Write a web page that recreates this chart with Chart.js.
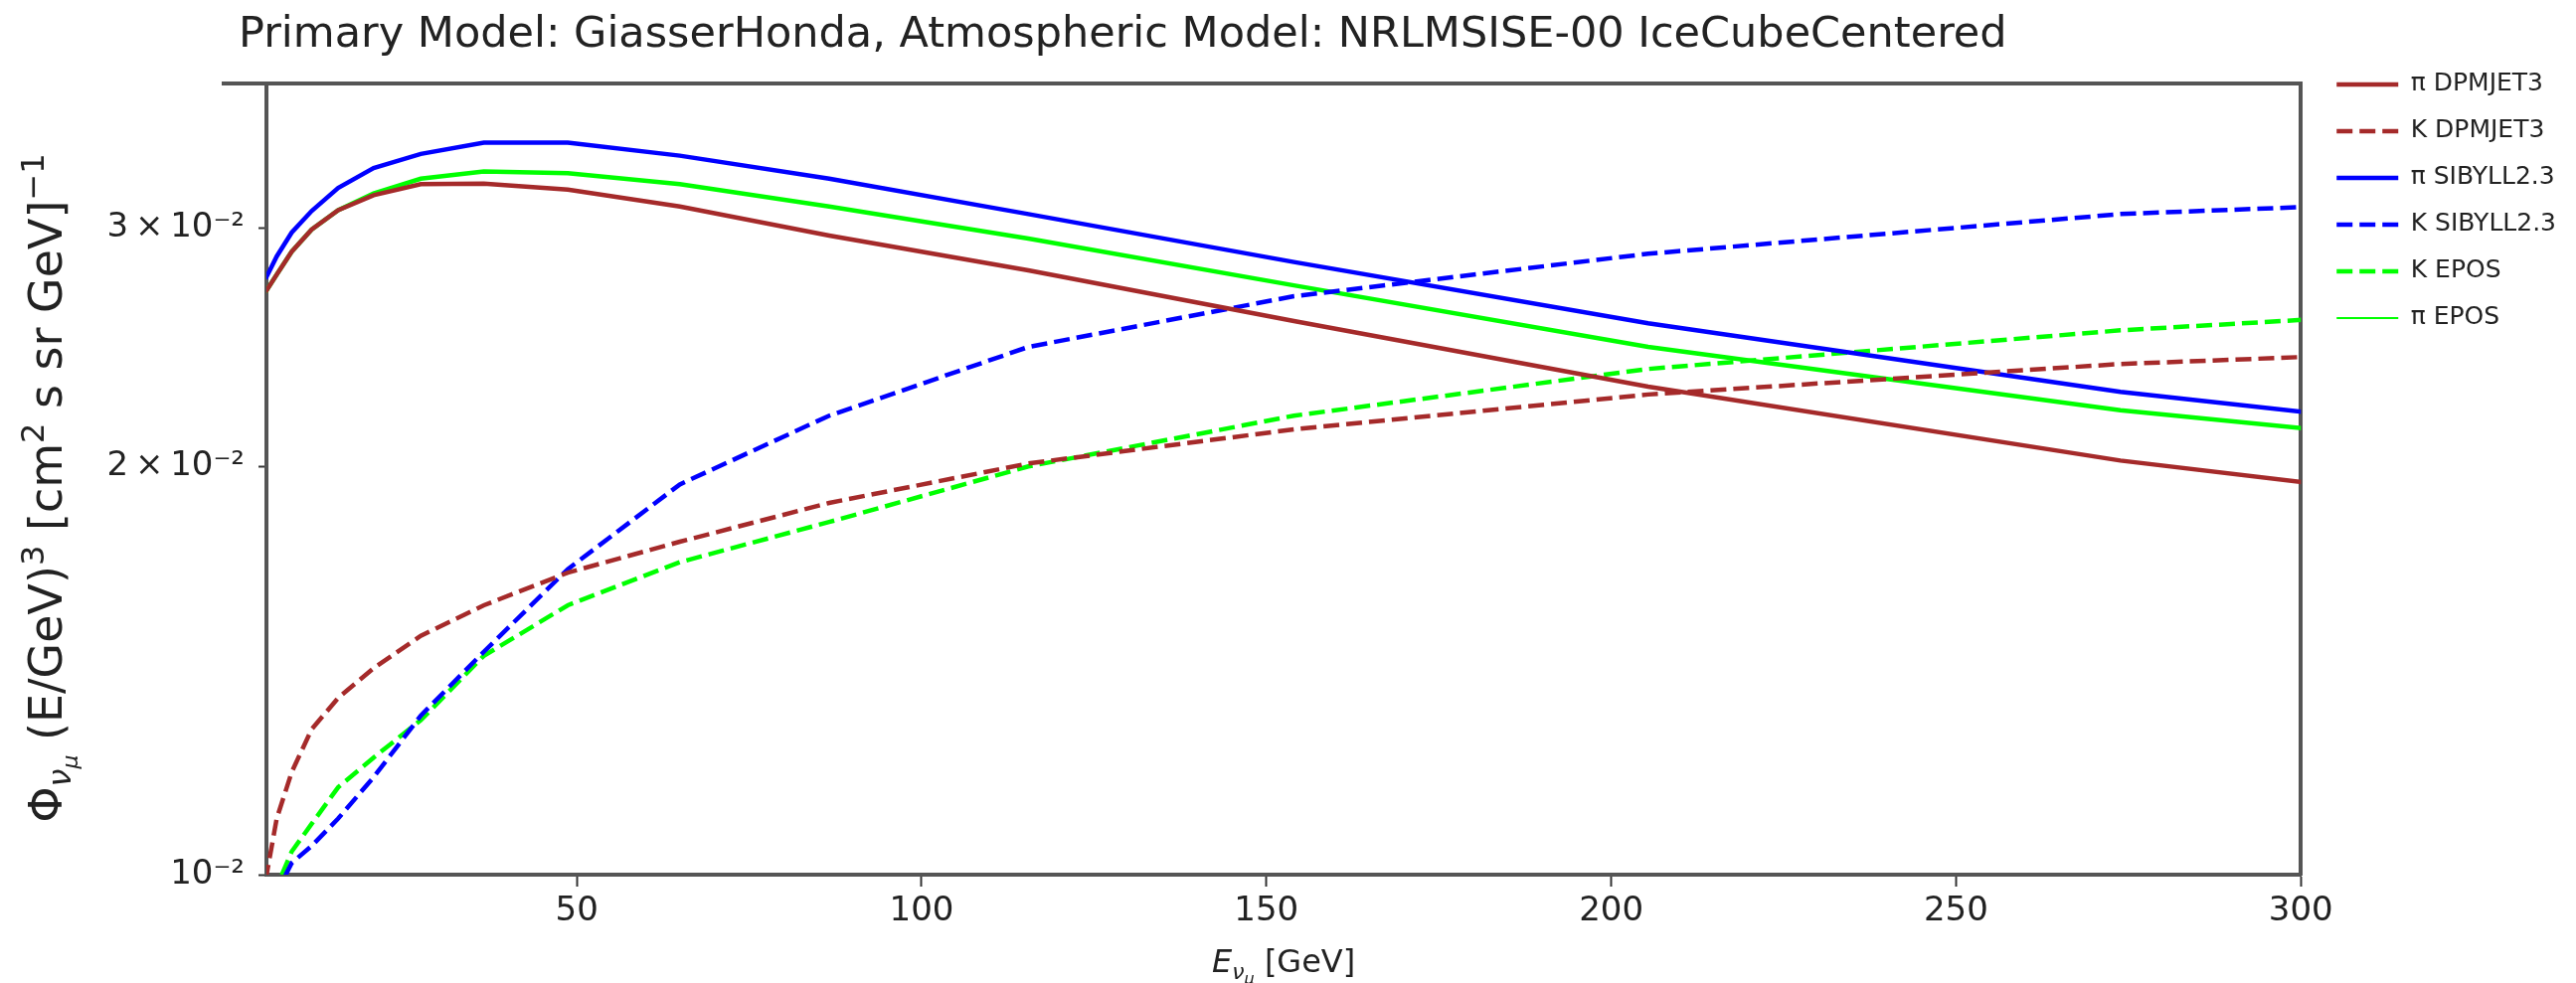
<!DOCTYPE html>
<html>
<head>
<meta charset="utf-8">
<title>Atmospheric neutrino flux</title>
<script src="https://cdn.jsdelivr.net/npm/chart.js@4.4.0/dist/chart.umd.min.js"></script>
<style>
    html, body { margin: 0; padding: 0; background: #fff; }
</style>
</head>
<body>
<canvas id="fluxChart" width="2591" height="989"></canvas>
<script>
// Energy grid (GeV)
const energies = [4.87, 6.49, 8.66, 11.55, 15.40, 20.54, 27.38, 36.52, 48.70, 64.94, 86.60, 115.48, 153.99, 205.35, 273.84, 365.17];

// Flux values, (E/GeV)^3 * Phi
const piDpmjet = [0.0269, 0.0277, 0.0288, 0.0299, 0.0309, 0.0317, 0.0323, 0.03233, 0.0320, 0.0311, 0.0296, 0.0279, 0.0256, 0.0229, 0.0202, 0.0178];
const kDpmjet = [0.0099, 0.0110, 0.0119, 0.0128, 0.0135, 0.0142, 0.0150, 0.0158, 0.0167, 0.0176, 0.0188, 0.0201, 0.0213, 0.0226, 0.0238, 0.0248];
const piSibyll = [0.0275, 0.02857, 0.02975, 0.03086, 0.03209, 0.0332, 0.0340, 0.03466, 0.03466, 0.0339, 0.0326, 0.0307, 0.0283, 0.0255, 0.0227, 0.0202];
const kSibyll = [0.0093, 0.0097, 0.0102, 0.0105, 0.0110, 0.0118, 0.0131, 0.0146, 0.0168, 0.0194, 0.0218, 0.0245, 0.0267, 0.0287, 0.0307, 0.0320];
const kEpos = [0.0093, 0.0098, 0.0104, 0.0109, 0.0116, 0.0122, 0.0130, 0.0145, 0.0158, 0.0170, 0.0182, 0.0200, 0.0218, 0.0236, 0.0252, 0.0268];
const piEpos = [0.0269, 0.0277, 0.0288, 0.0299, 0.0309, 0.0318, 0.0326, 0.0330, 0.0329, 0.0323, 0.0311, 0.02945, 0.0272, 0.0245, 0.0220, 0.0198];

const seriesLabels = ['π DPMJET3', 'K DPMJET3', 'π SIBYLL2.3', 'K SIBYLL2.3', 'K EPOS', 'π EPOS'];

const xTickValues = [50, 100, 150, 200, 250, 300];
const yTickValues = [0.01, 0.02, 0.03];
const yTickLabels = ['10⁻²', '2\u2009×\u200910⁻²', '3\u2009×\u200910⁻²'];

const chartTitle = 'Primary Model: GiasserHonda, Atmospheric Model: NRLMSISE-00 IceCubeCentered';

const BROWN = '#a52a2a';
const BLUE = '#0000ff';
const GREEN = '#00ff00';
const DASH = [16, 7];
const TEXT = '#222';
const SPINE = '#555';
const FONT = 'DejaVu Sans';

Chart.defaults.font.family = FONT;

function toPoints(values) {
    return energies.map(function (e, i) { return { x: e, y: values[i] }; });
}

function makeDataset(label, values, color, dashed, legendWidth) {
    return {
        label: label,
        data: toPoints(values),
        borderColor: color,
        backgroundColor: color,
        borderWidth: 4.5,
        borderDash: dashed ? DASH : [],
        legendLineWidth: legendWidth || 4.5,
        pointRadius: 0,
        tension: 0,
        fill: false,
        clip: 0
    };
}

/**
 * Draws a label made of pieces with different sizes / baseline shifts
 * (used for the sub- and superscripts of the axis titles)
 */
function drawRichText(ctx, parts, x, y, rotated) {
    ctx.save();
    ctx.translate(x, y);
    if (rotated) ctx.rotate(-Math.PI / 2);
    ctx.fillStyle = TEXT;
    ctx.textBaseline = 'alphabetic';
    ctx.textAlign = 'left';

    let total = 0;
    parts.forEach(function (p) {
        ctx.font = p.style + ' ' + p.size + 'px "' + FONT + '"';
        total += ctx.measureText(p.text).width;
    });

    let cx = -total / 2;
    parts.forEach(function (p) {
        ctx.font = p.style + ' ' + p.size + 'px "' + FONT + '"';
        ctx.fillText(p.text, cx, p.shift);
        cx += ctx.measureText(p.text).width;
    });
    ctx.restore();
}

// Title (left aligned, not over the axes centre) and the two axis titles
const titles = {
    id: 'titles',
    afterDraw: function (chart) {
        const ctx = chart.ctx;
        const area = chart.chartArea;

        ctx.save();
        // top frame line runs a little past the left spine in the original
        ctx.strokeStyle = SPINE;
        ctx.lineWidth = 4;
        ctx.beginPath();
        ctx.moveTo(223, area.top);
        ctx.lineTo(area.left, area.top);
        ctx.stroke();

        ctx.fillStyle = TEXT;
        ctx.font = '43px "' + FONT + '"';
        ctx.textAlign = 'left';
        ctx.textBaseline = 'middle';
        ctx.fillText(chartTitle, 240, 36);
        ctx.restore();

        // x: E_{nu_mu} [GeV]
        drawRichText(ctx, [
            { text: 'E', size: 32, style: 'italic', shift: 0 },
            { text: 'ν', size: 22, style: 'italic', shift: 7 },
            { text: 'μ', size: 16, style: 'italic', shift: 12 },
            { text: ' [GeV]', size: 32, style: 'normal', shift: 0 }
        ], (area.left + area.right) / 2, 978, false);

        // y: Phi_{nu_mu} (E/GeV)^3 [cm^2 s sr GeV]^-1
        drawRichText(ctx, [
            { text: 'Φ', size: 46, style: 'normal', shift: 0 },
            { text: 'ν', size: 32, style: 'italic', shift: 9 },
            { text: 'μ', size: 22, style: 'italic', shift: 16 },
            { text: ' (E/GeV)', size: 46, style: 'normal', shift: 0 },
            { text: '3', size: 32, style: 'normal', shift: -18 },
            { text: ' [cm', size: 46, style: 'normal', shift: 0 },
            { text: '2', size: 32, style: 'normal', shift: -18 },
            { text: ' s sr GeV]', size: 46, style: 'normal', shift: 0 },
            { text: '−1', size: 32, style: 'normal', shift: -18 }
        ], 62, 491, true);
    }
};

const datasets = [
    makeDataset(seriesLabels[0], piDpmjet, BROWN, false),
    makeDataset(seriesLabels[1], kDpmjet, BROWN, true),
    makeDataset(seriesLabels[2], piSibyll, BLUE, false),
    makeDataset(seriesLabels[3], kSibyll, BLUE, true),
    makeDataset(seriesLabels[4], kEpos, GREEN, true),
    makeDataset(seriesLabels[5], piEpos, GREEN, false, 2)
];

const spine = { display: true, color: SPINE, width: 4 };

new Chart(document.getElementById('fluxChart'), {
    type: 'line',
    data: { datasets: datasets },
    plugins: [titles],
    options: {
        responsive: false,
        animation: false,
        events: [],
        layout: { padding: { left: 0, right: 10, top: 0, bottom: 0 } },
        scales: {
            x: {
                type: 'linear',
                position: 'bottom',
                min: 5,
                max: 300,
                afterBuildTicks: function (scale) {
                    scale.ticks = xTickValues.map(function (v) { return { value: v }; });
                },
                afterFit: function (scale) { scale.height = 109; },
                grid: { display: true, drawOnChartArea: false, tickLength: 12, tickWidth: 2, tickColor: '#333' },
                border: spine,
                ticks: {
                    font: { size: 34 },
                    color: TEXT,
                    padding: 5,
                    maxRotation: 0,
                    autoSkip: false,
                    callback: function (value) { return String(value); }
                }
            },
            y: {
                type: 'logarithmic',
                position: 'left',
                min: 0.01,
                max: 0.03832,
                afterBuildTicks: function (scale) {
                    scale.ticks = yTickValues.map(function (v) { return { value: v }; });
                },
                afterFit: function (scale) { scale.width = 268; },
                grid: { display: true, drawOnChartArea: false, tickLength: 8, tickWidth: 2, tickColor: '#333' },
                border: spine,
                ticks: {
                    font: { size: 34 },
                    color: TEXT,
                    padding: 14,
                    autoSkip: false,
                    callback: function (value, index) { return yTickLabels[index]; }
                }
            },
            xTop: {
                type: 'linear',
                position: 'top',
                min: 5,
                max: 300,
                grid: { display: false },
                ticks: { display: false },
                border: spine,
                afterFit: function (scale) { scale.height = 84; }
            },
            yRight: {
                type: 'linear',
                position: 'right',
                min: 0,
                max: 1,
                grid: { display: false },
                ticks: { display: false },
                border: spine,
                afterFit: function (scale) { scale.width = 14; }
            }
        },
        plugins: {
            title: { display: false },
            legend: {
                display: true,
                position: 'right',
                align: 'start',
                fullSize: true,
                title: { display: true, text: '', font: { size: 12 }, padding: { top: 36, bottom: 0 } },
                labels: {
                    usePointStyle: true,
                    pointStyle: 'line',
                    pointStyleWidth: 62,
                    padding: 22,
                    color: TEXT,
                    font: { size: 25 },
                    generateLabels: function (chart) {
                        const items = Chart.defaults.plugins.legend.labels.generateLabels(chart);
                        items.forEach(function (item) {
                            const ds = chart.data.datasets[item.datasetIndex];
                            item.strokeStyle = ds.borderColor;
                            item.fillStyle = ds.borderColor;
                            item.lineWidth = ds.legendLineWidth;
                            item.lineDash = ds.borderDash;
                            item.pointStyle = 'line';
                        });
                        return items;
                    }
                }
            },
            tooltip: { enabled: false }
        }
    }
});
</script>
</body>
</html>
